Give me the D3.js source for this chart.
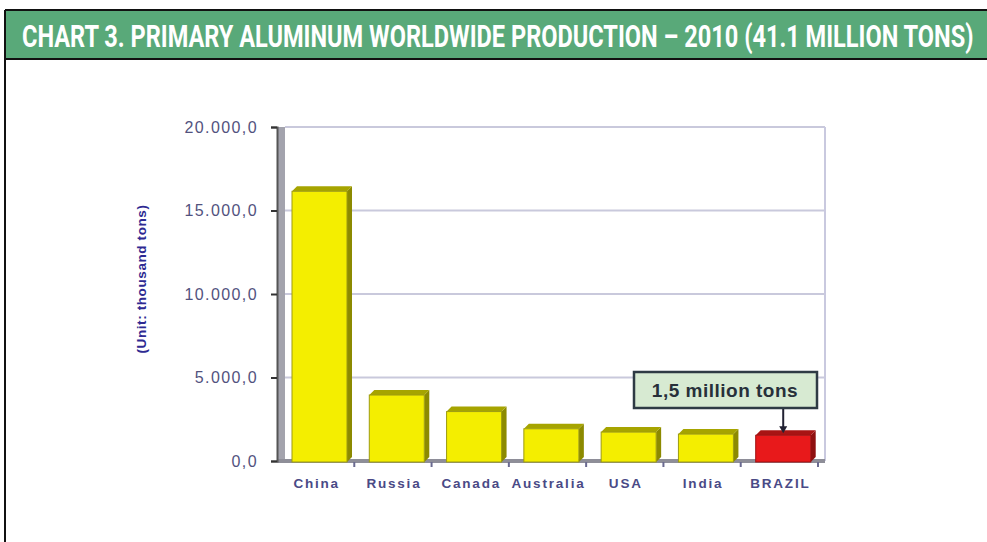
<!DOCTYPE html>
<html>
<head>
<meta charset="utf-8">
<script src="https://cdn.jsdelivr.net/npm/d3@7"></script>
<style>
    body { margin: 0; background: #fff; }
    svg { display: block; }
</style>
</head>
<body>
<div id="chart"></div>
<script>
// Data
const countries = ["China", "Russia", "Canada", "Australia", "USA", "India", "BRAZIL"];
const production = [16150, 3950, 2960, 1930, 1730, 1610, 1540];
const yTicks = [0, 5000, 10000, 15000, 20000];
const titleText = "CHART 3. PRIMARY ALUMINUM WORLDWIDE PRODUCTION \u2013 2010 (41.1 MILLION TONS)";
const noteText = "1,5 million tons";
const highlight = "BRAZIL";

const width = 987, height = 542;

const svg = d3.select("#chart").append("svg")
    .attr("width", width)
    .attr("height", height);

// Title band
svg.append("rect")
    .attr("x", 5).attr("y", 10)
    .attr("width", width - 5).attr("height", 49)
    .attr("fill", "#59a979");
svg.append("line")
    .attr("x1", 5).attr("x2", width).attr("y1", 10).attr("y2", 10)
    .attr("stroke", "#111").attr("stroke-width", 2);
svg.append("line")
    .attr("x1", 5).attr("x2", width).attr("y1", 59).attr("y2", 59)
    .attr("stroke", "#111").attr("stroke-width", 2);
svg.append("line")
    .attr("x1", 5).attr("x2", 5).attr("y1", 10).attr("y2", height)
    .attr("stroke", "#111").attr("stroke-width", 2);

// condensed look: draw at natural size, then squeeze horizontally to fit
const title = svg.append("text")
    .attr("x", 0).attr("y", 0)
    .style("font-family", "'Liberation Sans Narrow', 'Roboto', 'Liberation Sans', sans-serif")
    .style("font-weight", "bold")
    .style("font-size", "28px")
    .attr("fill", "#fff")
    .text(titleText);
const titleW = title.node().getComputedTextLength();
title.attr("transform", "translate(22,46.5) scale(" + (952 / titleW) + ",1.1)");

// Plot area (front edge of the 3D floor, back wall is shifted right)
const plot = {left: 277, right: 818, top: 127, bottom: 461};
const wall = 8;

const x = d3.scaleBand()
    .domain(countries)
    .range([plot.left, plot.right])
    .padding(0);

const y = d3.scaleLinear()
    .domain([0, 20000])
    .range([plot.bottom, plot.top]);

const locale = d3.formatLocale({decimal: ",", thousands: ".", grouping: [3], currency: ["", ""]});
const fmt = locale.format(",.1f");

// Gridlines on the back wall
svg.append("g")
    .selectAll("line")
    .data(yTicks.filter(d => d > 0))
    .join("line")
    .attr("x1", plot.left + wall).attr("x2", plot.right + 7)
    .attr("y1", d => y(d)).attr("y2", d => y(d))
    .attr("stroke", "#c9c9dc").attr("stroke-width", 2);

// Right border
svg.append("line")
    .attr("x1", plot.right + 7).attr("x2", plot.right + 7)
    .attr("y1", plot.top).attr("y2", plot.bottom)
    .attr("stroke", "#c9c9df").attr("stroke-width", 2);

// 3D side wall and floor
svg.append("rect")
    .attr("x", plot.left).attr("y", plot.top)
    .attr("width", wall).attr("height", plot.bottom - plot.top)
    .attr("fill", "#a3a3ad");
svg.append("rect")
    .attr("x", plot.left).attr("y", plot.bottom - 2)
    .attr("width", plot.right + 7 - plot.left).attr("height", 4)
    .attr("fill", "#8e8e98");

// Y axis
const yAxis = d3.axisLeft(y)
    .tickValues(yTicks)
    .tickSize(6)
    .tickPadding(13)
    .tickFormat(fmt);
const yAxisGroup = svg.append("g")
    .attr("transform", "translate(" + plot.left + ",0)")
    .call(yAxis);
yAxisGroup.select(".domain").attr("stroke", "#555").attr("stroke-width", 2);
yAxisGroup.selectAll(".tick line").attr("stroke", "#333").attr("stroke-width", 2);
yAxisGroup.selectAll(".tick text")
    .attr("fill", "#52527e")
    .style("font-family", "'Liberation Sans', Arial, sans-serif")
    .style("font-size", "16px")
    .style("letter-spacing", "1.4px");

// X axis labels
const xAxis = d3.axisBottom(x).tickSize(0).tickPadding(17);
const xAxisGroup = svg.append("g")
    .attr("transform", "translate(1," + plot.bottom + ")")
    .call(xAxis);
xAxisGroup.select(".domain").remove();
xAxisGroup.selectAll(".tick text")
    .attr("fill", "#4a4a86")
    .style("font-family", "'Liberation Sans', Arial, sans-serif")
    .style("font-weight", "bold")
    .style("font-size", "13.5px")
    .style("letter-spacing", "1.8px");

// X tick marks at category boundaries
svg.append("g")
    .selectAll("line")
    .data(countries.slice(1).concat(["end"]))
    .join("line")
    .attr("x1", d => d === "end" ? plot.right : x(d))
    .attr("x2", d => d === "end" ? plot.right : x(d))
    .attr("y1", plot.bottom + 1).attr("y2", plot.bottom + 6)
    .attr("stroke", "#6a6a90").attr("stroke-width", 2);

// Y axis title
svg.append("text")
    .attr("transform", "translate(146,279) rotate(-90)")
    .attr("text-anchor", "middle")
    .attr("fill", "#2e2a92")
    .style("font-family", "'Liberation Sans', Arial, sans-serif")
    .style("font-weight", "bold")
    .style("font-size", "13.5px")
    .style("letter-spacing", "0.6px")
    .text("(Unit: thousand tons)");

// Bars with a small 3D depth
const depth = 5;
const barW = 55;
const barOff = 15;
const data = countries.map((c, i) => ({name: c, value: production[i]}));

const bars = svg.append("g")
    .selectAll("g")
    .data(data)
    .join("g");

bars.append("path")
    .attr("d", d => {
        const x1 = x(d.name) + barOff + barW, yt = y(d.value), yb = plot.bottom + 1;
        return `M${x1},${yb} L${x1},${yt} L${x1 + depth},${yt - depth} L${x1 + depth},${yb - depth} Z`;
    })
    .attr("fill", d => d.name === highlight ? "#8f1010" : "#8c8a00");

bars.append("path")
    .attr("d", d => {
        const x0 = x(d.name) + barOff, x1 = x0 + barW, yt = y(d.value);
        return `M${x0},${yt} L${x0 + depth},${yt - depth} L${x1 + depth},${yt - depth} L${x1},${yt} Z`;
    })
    .attr("fill", d => d.name === highlight ? "#a81414" : "#a6a400");

bars.append("rect")
    .attr("x", d => x(d.name) + barOff)
    .attr("y", d => y(d.value))
    .attr("width", barW)
    .attr("height", d => plot.bottom + 1 - y(d.value))
    .attr("fill", d => d.name === highlight ? "#e8191b" : "#f4ee00")
    .attr("stroke", d => d.name === highlight ? "#a01010" : "#9d9b10")
    .attr("stroke-width", 1);

// Annotation for Brazil
const hx = x(highlight) + barOff + barW / 2;
const hv = production[countries.indexOf(highlight)];
svg.append("rect")
    .attr("x", 634).attr("y", 372)
    .attr("width", 183).attr("height", 36)
    .attr("fill", "#d7ead2")
    .attr("stroke", "#2e3a44").attr("stroke-width", 2.5);
svg.append("text")
    .attr("x", 725).attr("y", 397)
    .attr("text-anchor", "middle")
    .attr("fill", "#27303a")
    .style("font-family", "'Liberation Sans', Arial, sans-serif")
    .style("font-weight", "bold")
    .style("font-size", "19px")
    .style("letter-spacing", "0.5px")
    .text(noteText);
svg.append("line")
    .attr("x1", hx).attr("x2", hx)
    .attr("y1", 409).attr("y2", y(hv) - 6)
    .attr("stroke", "#223").attr("stroke-width", 2);
svg.append("path")
    .attr("d", `M${hx - 4},${y(hv) - 9} L${hx + 4},${y(hv) - 9} L${hx},${y(hv) - 2} Z`)
    .attr("fill", "#223");
</script>
</body>
</html>
